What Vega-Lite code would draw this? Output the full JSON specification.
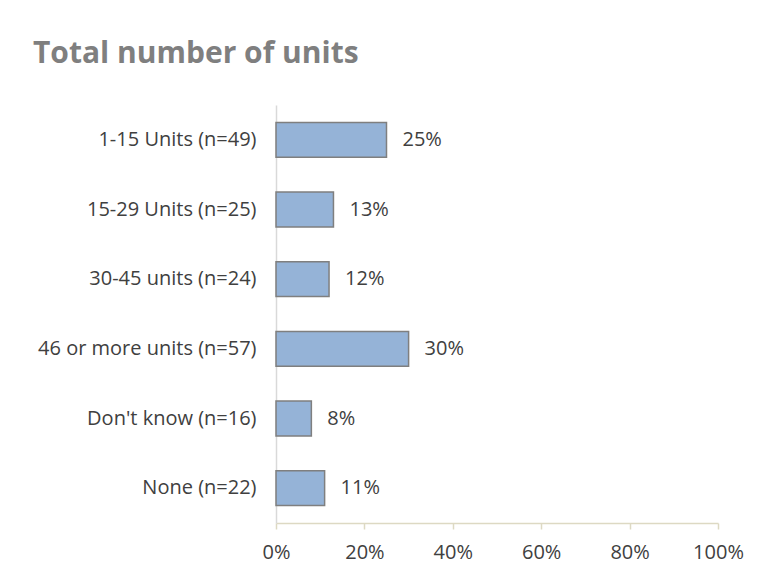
{
  "$schema": "https://vega.github.io/schema/vega-lite/v6.json",
  "width": 442,
  "height": 418,
  "autosize": {"type": "none"},
  "padding": {"left": 276, "top": 105, "right": 47, "bottom": 58},
  "background": "white",
  "title": {
    "text": "Total number of units",
    "anchor": "start",
    "frame": "group",
    "dx": -243,
    "offset": 12,
    "baseline": "alphabetic",
    "font": "Open Sans",
    "fontSize": 30,
    "fontWeight": "bold",
    "color": "#7f7f7f"
  },
  "data": {
    "values": [
      {"category": "1-15 Units (n=49)", "share": 0.25},
      {"category": "15-29 Units (n=25)", "share": 0.13},
      {"category": "30-45 units (n=24)", "share": 0.12},
      {"category": "46 or more units (n=57)", "share": 0.30},
      {"category": "Don't know (n=16)", "share": 0.08},
      {"category": "None (n=22)", "share": 0.11}
    ]
  },
  "encoding": {
    "y": {
      "field": "category",
      "type": "nominal",
      "sort": null,
      "scale": {"paddingInner": 0.5, "paddingOuter": 0.25},
      "axis": {
        "title": null,
        "ticks": false,
        "labelPadding": 20,
        "labelLimit": 300,
        "labelFont": "Open Sans",
        "labelFontSize": 20,
        "labelColor": "#404040",
        "domainColor": "#d9d9d9",
        "domainWidth": 1.5
      }
    },
    "x": {
      "field": "share",
      "type": "quantitative",
      "scale": {"domain": [0, 1], "nice": false},
      "axis": {
        "title": null,
        "format": ".0%",
        "values": [0, 0.2, 0.4, 0.6, 0.8, 1],
        "grid": false,
        "tickSize": 6,
        "tickColor": "#ddd9c3",
        "tickWidth": 1.5,
        "domainColor": "#ddd9c3",
        "domainWidth": 1.5,
        "labelPadding": 13,
        "labelFont": "Open Sans",
        "labelFontSize": 20,
        "labelColor": "#404040",
        "labelFlush": false
      }
    }
  },
  "layer": [
    {
      "mark": {"type": "bar", "fill": "#95b3d7", "stroke": "#7f7f7f", "strokeWidth": 1.5}
    },
    {
      "mark": {"type": "text", "align": "left", "baseline": "middle", "dx": 16, "font": "Open Sans", "fontSize": 20, "color": "#404040"},
      "encoding": {
        "text": {"field": "share", "type": "quantitative", "format": ".0%"}
      }
    }
  ],
  "config": {"view": {"stroke": null}}
}
